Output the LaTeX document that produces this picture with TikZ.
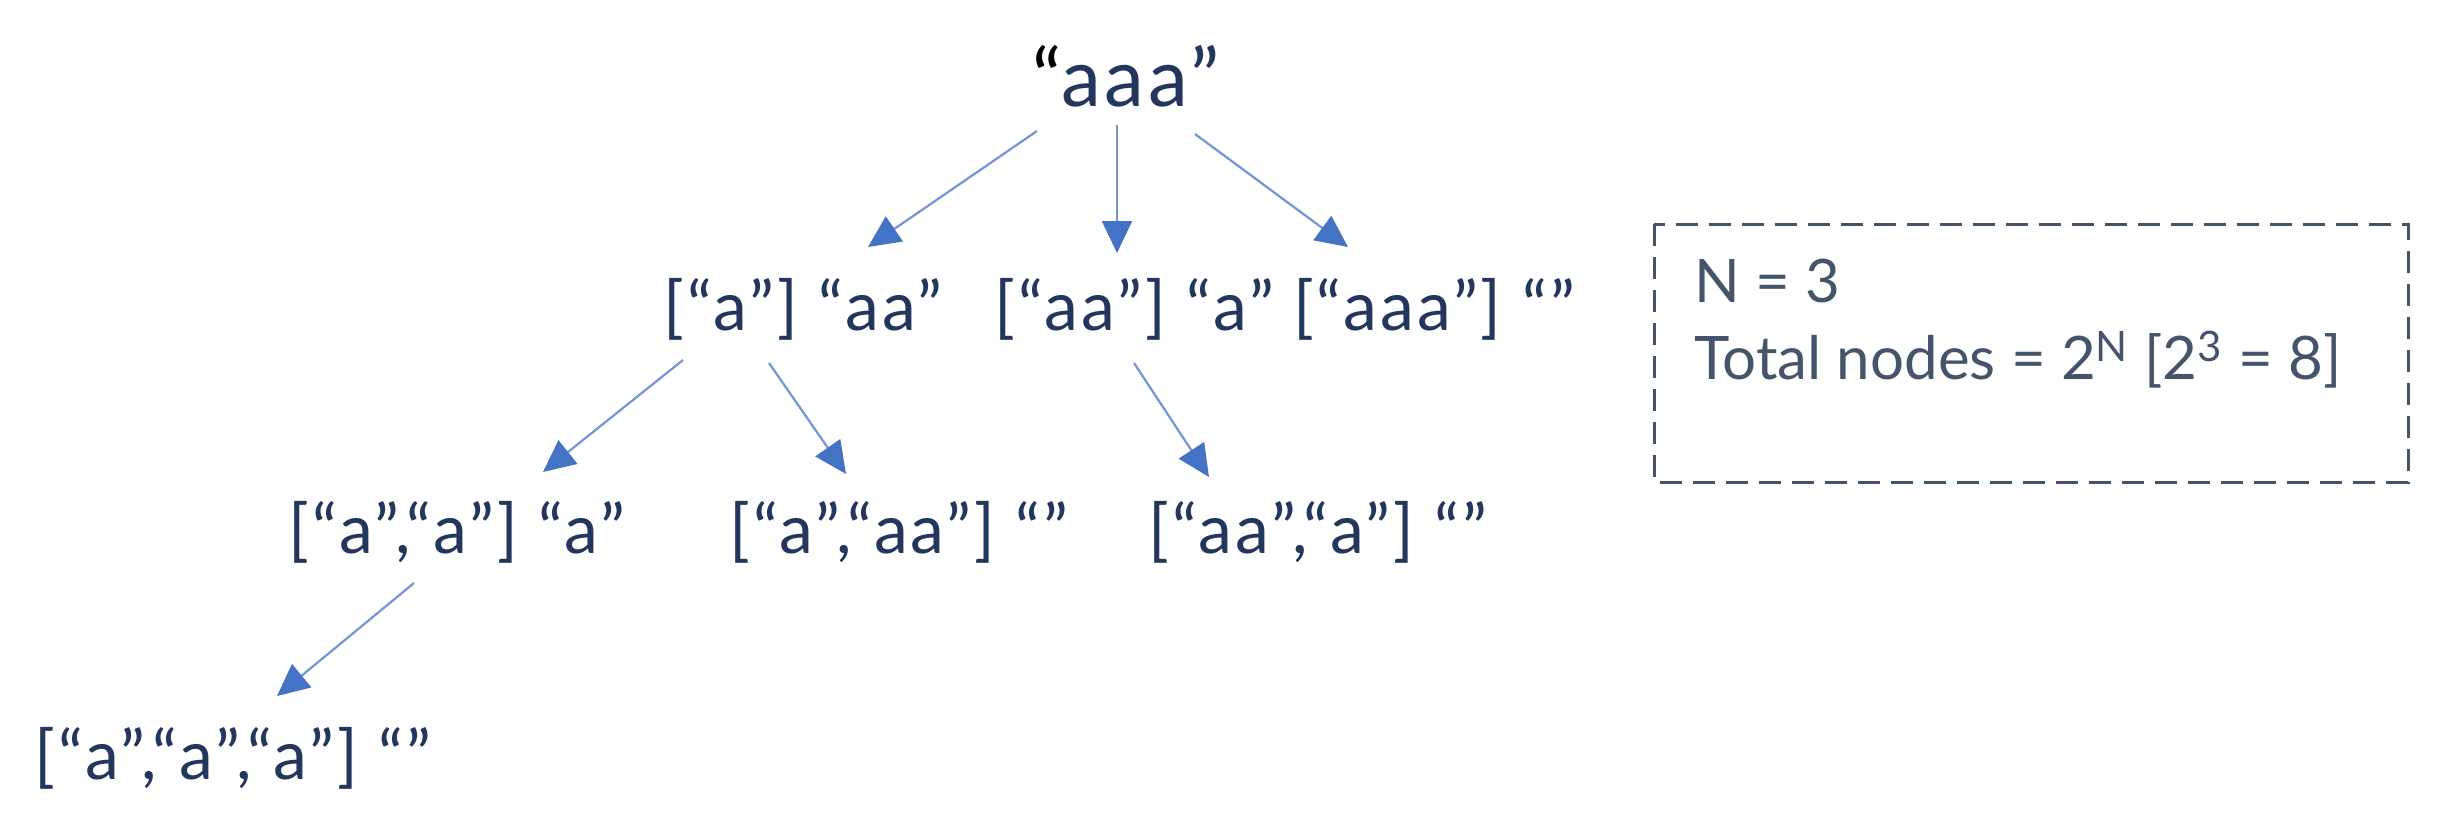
\documentclass[tikz,border=0pt]{standalone}
\usepackage{fontspec}
\setmainfont{Lato}
\newfontfamily\treefont[LetterSpace=4.5]{Lato}
\usetikzlibrary{arrows.meta}
\definecolor{treetext}{HTML}{22365E}
\definecolor{boxtext}{HTML}{44546A}
\definecolor{arrowblue}{HTML}{4472C4}
\definecolor{arrowline}{HTML}{7395D6}
\tikzset{
  lbl/.style={font=\treefont\fontsize{34}{40}\selectfont, text=treetext, inner sep=0pt, text height=24.5pt, text depth=6.8pt, anchor=center},
  rootlbl/.style={lbl, font=\treefont\fontsize{40}{46}\selectfont, text height=28.8pt, text depth=8pt},
  info/.style={font=\fontsize{30}{36}\selectfont, text=boxtext, inner sep=0pt, anchor=west},
  arr/.style={draw=arrowline, line width=1.1pt, -{Triangle[length=16pt,width=15pt,color=arrowblue,fill=arrowblue]}},
  infobox/.style={draw=boxtext, line width=1.5pt, dash pattern=on 11pt off 5.5pt}
}
\begin{document}
\begin{tikzpicture}[x=0.5pt,y=-0.5pt]
\useasboundingbox (0,0) rectangle (2452,816);
\node[rootlbl] (root) at (1126,86) {\textcolor{black}{“}aaa”};
\node[lbl] (l1a) at (803,313) {[“a”] “aa”};
\node[lbl] (l1b) at (1134,313) {[“aa”] “a”};
\node[lbl] (l1c) at (1434,313) {[“aaa”] “”};
\node[lbl] (l2a) at (457,536) {[“a”,“a”] “a”};
\node[lbl] (l2b) at (899,536) {[“a”,“aa”] “”};
\node[lbl] (l2c) at (1318,536) {[“aa”,“a”] “”};
\node[lbl] (l3) at (233,762) {[“a”,“a”,“a”] “”};

\draw[arr] ([shift={(-89,45)}]root.center) -- ([shift={(65,-66)}]l1a.center);
\draw[arr] ([shift={(-9,39)}]root.center) -- ([shift={(-17,-60)}]l1b.center);
\draw[arr] ([shift={(69,48)}]root.center) -- ([shift={(-86,-66)}]l1c.center);
\draw[arr] ([shift={(-120,47)}]l1a.center) -- ([shift={(86,-64)}]l2a.center);
\draw[arr] ([shift={(-34,50)}]l1a.center) -- ([shift={(-53,-62)}]l2b.center);
\draw[arr] ([shift={(0,50)}]l1b.center) -- ([shift={(-109,-59)}]l2c.center);
\draw[arr] ([shift={(-43,47)}]l2a.center) -- ([shift={(44,-66)}]l3.center);

\draw[infobox] (1654,224) rectangle (2408,482);
\node[info] (nline) at (1694,281) {N = 3};
\node[info] (tline) at (1694,360) {Total nodes = 2\textsuperscript{N} [2\textsuperscript{3} = 8]};
\end{tikzpicture}
\end{document}
